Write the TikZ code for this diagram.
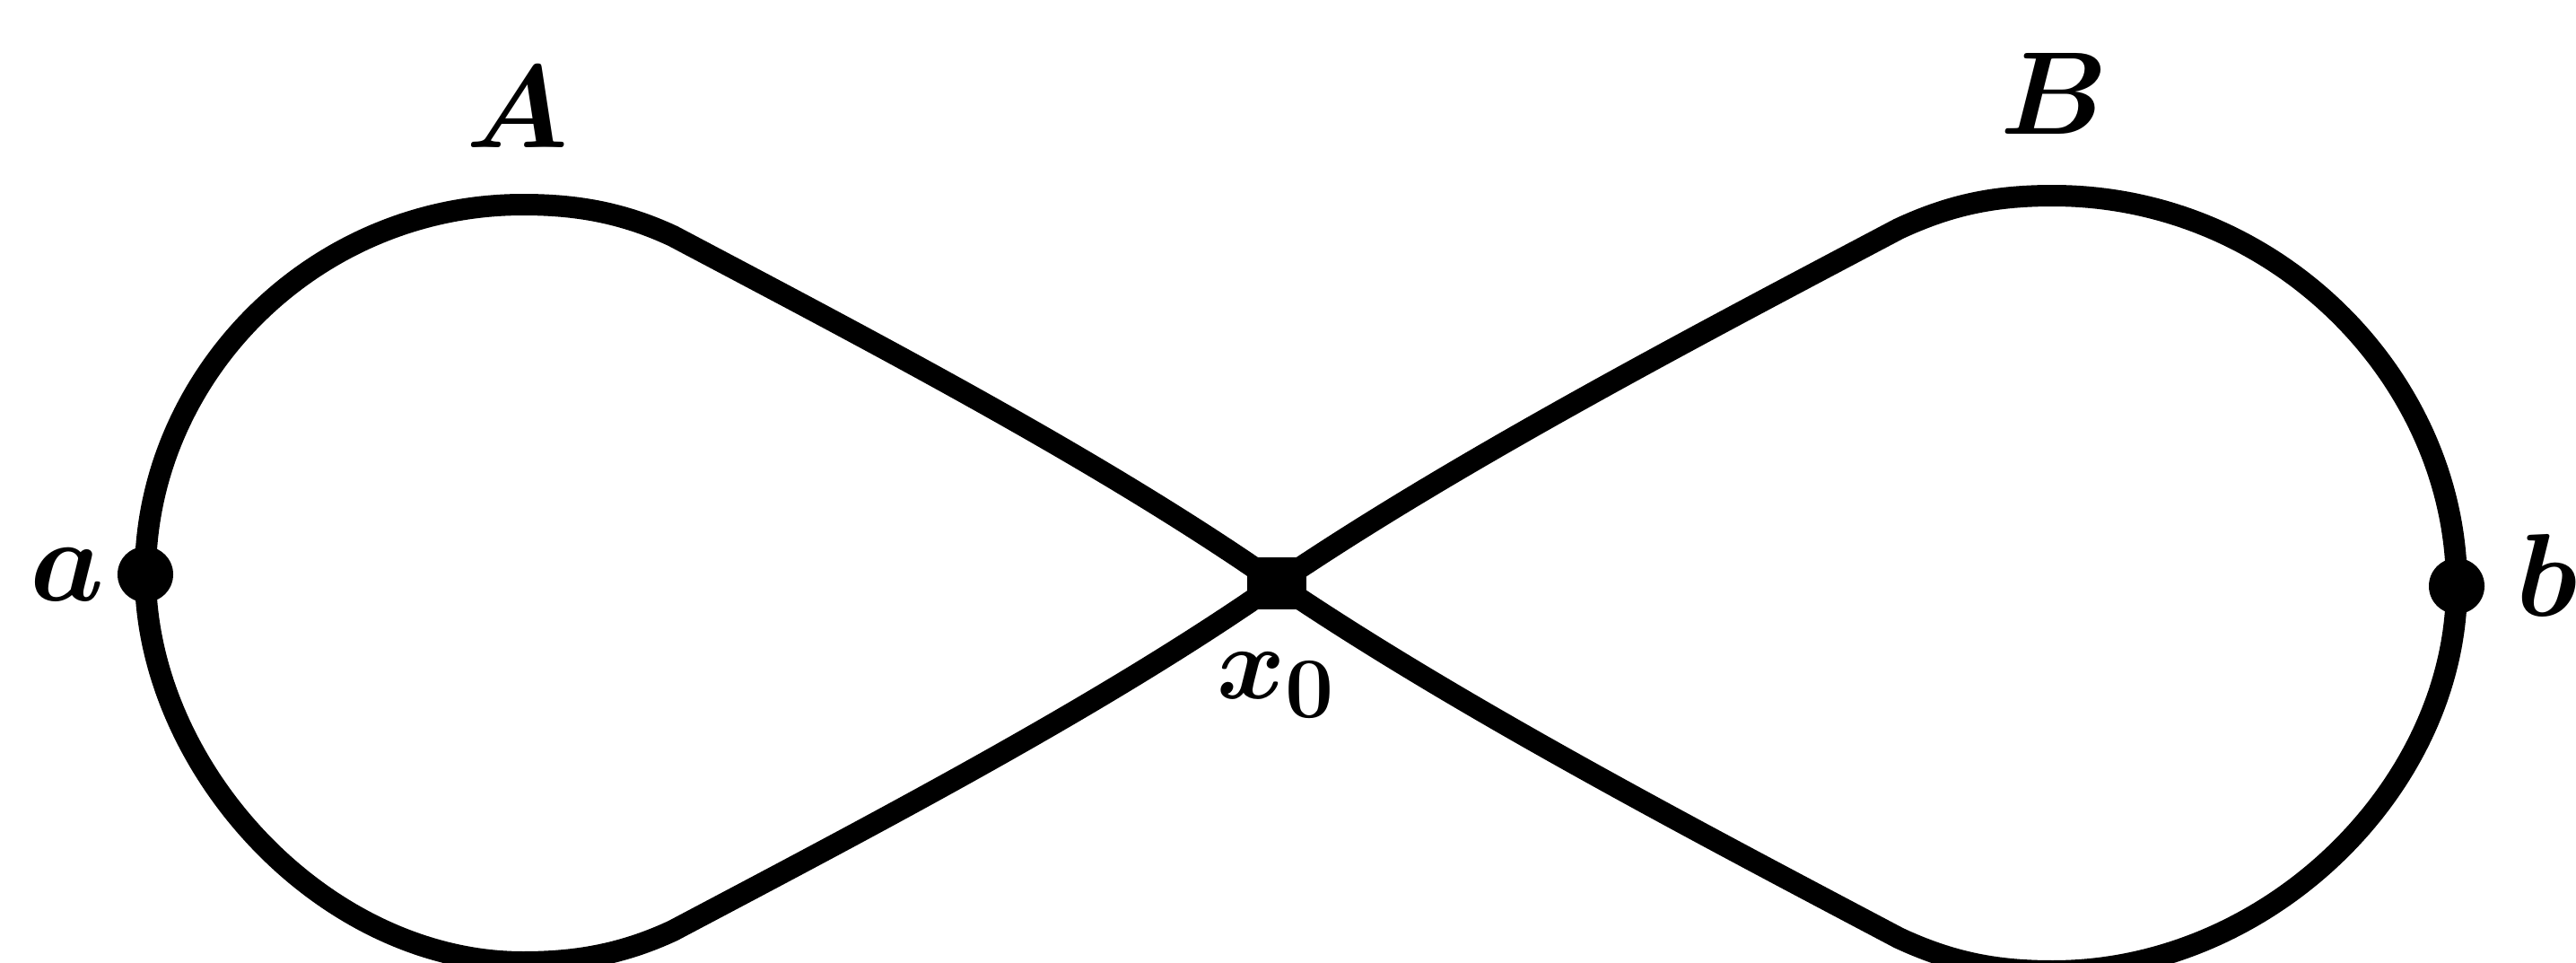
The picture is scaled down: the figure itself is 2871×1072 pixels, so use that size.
\documentclass[tikz,border=0pt]{standalone}
\usepackage{amsmath}
\begin{document}
\begin{tikzpicture}[x=0.01cm,y=-0.01cm,
  curve/.style={line width=0.24cm,line join=round,line cap=round},
  dotpt/.style={circle,fill=black,inner sep=0pt,minimum size=0.62cm},
  crosspt/.style={rectangle,fill=black,inner sep=0pt,minimum width=0.66cm,minimum height=0.58cm},
  lbl/.style={inner sep=0pt,scale=1.5,font={\Huge\boldmath}}]
\useasboundingbox (0,0) rectangle (2871,1072);
\coordinate (X) at (1423,650);
\coordinate (a) at (162,640);
\coordinate (b) at (2738,653);
% left loop
\draw[curve] (X) .. controls (1230,515) and (975,382) .. (750,263)
  .. controls (692,236) and (640,228) .. (583,228)
  .. controls (348,228) and (162,420) .. (a)
  .. controls (162,855) and (360,1072) .. (583,1072)
  .. controls (640,1072) and (692,1064) .. (750,1037)
  .. controls (975,918) and (1230,785) .. (X);
% right loop
\draw[curve] (X) .. controls (1622,515) and (1885,377) .. (2116,255)
  .. controls (2176,227) and (2226,218) .. (2288,218)
  .. controls (2538,218) and (2738,423) .. (b)
  .. controls (2738,875) and (2530,1082) .. (2288,1082)
  .. controls (2226,1082) and (2176,1073) .. (2116,1045)
  .. controls (1885,923) and (1622,785) .. (X);
\node[dotpt] (da) at (a) {};
\node[dotpt] (db) at (b) {};
\node[crosspt] (dx) at (X) {};
\node[lbl,anchor=west] (la) at (32,640) {$\boldsymbol{a}$};
\node[lbl,anchor=west] (lb) at (2803,641) {$\boldsymbol{b}$};
\node[lbl] (lA) at (577,119) {$\boldsymbol{A}$};
\node[lbl] (lB) at (2290,104) {$\boldsymbol{B}$};
\node[lbl,scale=0.88] (lx) at (1423,763) {$\boldsymbol{x_0}$};
\end{tikzpicture}
\end{document}
